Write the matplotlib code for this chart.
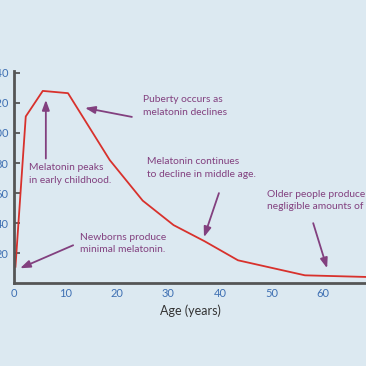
import matplotlib.pyplot as plt

plt.rcParams["font.family"] = ["Lato", "DejaVu Sans"]

# melatonin over lifetime
age = [0.3, 2.3, 5.6, 10.5, 18.6, 25.0, 31.0, 37.0, 43.5, 56.5, 68.5]
melatonin = [11, 111, 128, 126.5, 82, 55, 38.7, 28, 15.3, 5.3, 4.2]

x_ticks = [0, 10, 20, 30, 40, 50, 60]
y_ticks = [20, 40, 60, 80, 100, 120, 140]

bg = "#dce9f1"
purple = "#82407f"
blue = "#3f70b3"

fig = plt.figure(figsize=(3.66, 3.66), dpi=100, facecolor=bg)
ax = fig.add_axes([0.038, 0.226, 0.962, 0.579], facecolor=bg)

ax.plot(age, melatonin, color="#d8312c", lw=1.3)

ax.set_xlim(0, 68.35)
ax.set_ylim(0, 141)
ax.set_xticks(x_ticks)
ax.set_yticks(y_ticks)
ax.tick_params(axis="x", length=0, pad=3.5, labelsize=8, labelcolor=blue)
ax.tick_params(axis="y", direction="in", length=4, width=1.3, color="#555555",
               pad=4, labelsize=8, labelcolor=blue)
for s in ["top", "right"]:
    ax.spines[s].set_visible(False)
for s in ["left", "bottom"]:
    ax.spines[s].set_color("#555555")
    ax.spines[s].set_linewidth(2)
ax.set_xlabel("Age (years)", fontsize=9, color="#333333", labelpad=4)

# annotations: (text, text pos, arrow tail, arrow tip)
notes = [
    ("Melatonin peaks\nin early childhood.", (2.9, 80), (6.2, 83), (6.2, 122)),
    ("Puberty occurs as\nmelatonin declines", (25.0, 125), (22.9, 110.7), (13.8, 116.7)),
    ("Melatonin continues\nto decline in middle age.", (25.8, 84), (39.8, 60), (36.9, 30.7)),
    ("Older people produce\nnegligible amounts of", (49.1, 62.3), (58.1, 40), (60.8, 10)),
    ("Newborns produce\nminimal melatonin.", (12.8, 33.7), (11.5, 25.3), (1.2, 10)),
]
for txt, tpos, tail, tip in notes:
    ax.text(tpos[0], tpos[1], txt, fontsize=7.4, color=purple, va="top", ha="left",
            linespacing=1.5, clip_on=False)
    ax.annotate("", xy=tip, xytext=tail,
                arrowprops=dict(arrowstyle="-|>,head_length=0.6,head_width=0.22",
                                color=purple, lw=1.3, shrinkA=0, shrinkB=0))

fig.savefig("out.png", dpi=100, facecolor=bg)
